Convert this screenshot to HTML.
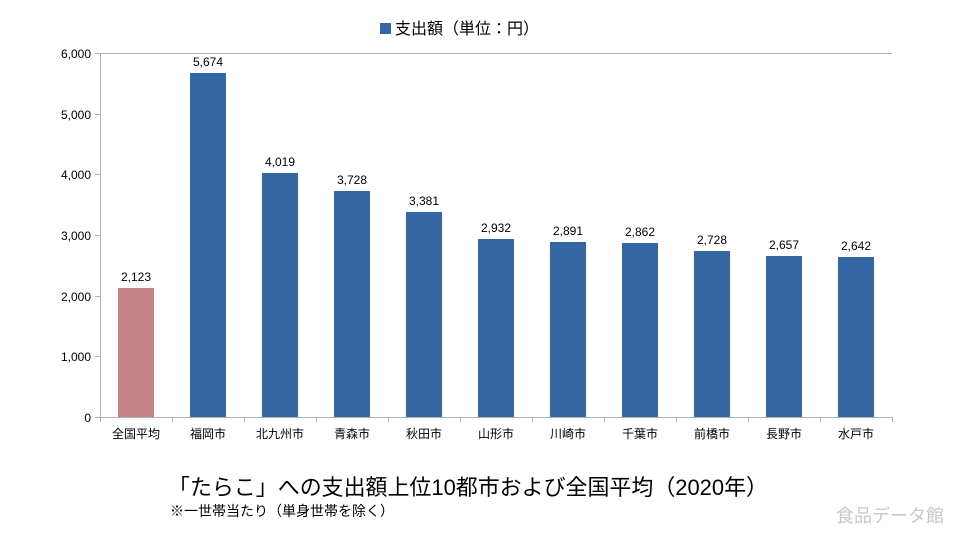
<!DOCTYPE html>
<html><head><meta charset="utf-8"><style>
body{margin:0;background:#fff;}
svg text{font-family:"Liberation Sans","Noto Sans CJK JP",sans-serif;}
</style></head><body>
<svg width="964" height="534" xmlns="http://www.w3.org/2000/svg">
<rect x="380" y="23" width="11" height="11" fill="#3465a4"/>
<text x="395" y="34" font-size="16" fill="#000">支出額（単位：円）</text>
<g stroke="#b0b0b0" stroke-width="1" fill="none">
<line x1="100.5" y1="53" x2="100.5" y2="417"/>
<line x1="100" y1="417.5" x2="892" y2="417.5"/>
<line x1="95" y1="53.5" x2="892" y2="53.5"/>
<line x1="95" y1="114.5" x2="100" y2="114.5"/>
<line x1="95" y1="174.5" x2="100" y2="174.5"/>
<line x1="95" y1="235.5" x2="100" y2="235.5"/>
<line x1="95" y1="296.5" x2="100" y2="296.5"/>
<line x1="95" y1="356.5" x2="100" y2="356.5"/>
<line x1="95" y1="417.5" x2="100" y2="417.5"/>
<line x1="172.5" y1="417" x2="172.5" y2="422"/><line x1="244.5" y1="417" x2="244.5" y2="422"/>
<line x1="316.5" y1="417" x2="316.5" y2="422"/><line x1="388.5" y1="417" x2="388.5" y2="422"/>
<line x1="460.5" y1="417" x2="460.5" y2="422"/><line x1="532.5" y1="417" x2="532.5" y2="422"/>
<line x1="604.5" y1="417" x2="604.5" y2="422"/><line x1="676.5" y1="417" x2="676.5" y2="422"/>
<line x1="748.5" y1="417" x2="748.5" y2="422"/><line x1="820.5" y1="417" x2="820.5" y2="422"/>
<line x1="892.5" y1="417" x2="892.5" y2="422"/><line x1="100.5" y1="417" x2="100.5" y2="422"/>
</g>
<g font-size="12" fill="#000" text-anchor="end">
<text x="91" y="58">6,000</text><text x="91" y="119">5,000</text><text x="91" y="179">4,000</text>
<text x="91" y="240">3,000</text><text x="91" y="301">2,000</text><text x="91" y="361">1,000</text><text x="91" y="422">0</text>
</g>
<g font-size="12" fill="#000" text-anchor="middle">
<rect x="118" y="288" width="36" height="129" fill="#c48386"/><text x="136" y="281">2,123</text><text x="136" y="438">全国平均</text>
<rect x="190" y="73" width="36" height="344" fill="#3465a4"/><text x="208" y="66">5,674</text><text x="208" y="438">福岡市</text>
<rect x="262" y="173" width="36" height="244" fill="#3465a4"/><text x="280" y="166">4,019</text><text x="280" y="438">北九州市</text>
<rect x="334" y="191" width="36" height="226" fill="#3465a4"/><text x="352" y="184">3,728</text><text x="352" y="438">青森市</text>
<rect x="406" y="212" width="36" height="205" fill="#3465a4"/><text x="424" y="205">3,381</text><text x="424" y="438">秋田市</text>
<rect x="478" y="239" width="36" height="178" fill="#3465a4"/><text x="496" y="232">2,932</text><text x="496" y="438">山形市</text>
<rect x="550" y="242" width="36" height="175" fill="#3465a4"/><text x="568" y="235">2,891</text><text x="568" y="438">川崎市</text>
<rect x="622" y="243" width="36" height="174" fill="#3465a4"/><text x="640" y="236">2,862</text><text x="640" y="438">千葉市</text>
<rect x="694" y="251" width="36" height="166" fill="#3465a4"/><text x="712" y="244">2,728</text><text x="712" y="438">前橋市</text>
<rect x="766" y="256" width="36" height="161" fill="#3465a4"/><text x="784" y="249">2,657</text><text x="784" y="438">長野市</text>
<rect x="838" y="257" width="36" height="160" fill="#3465a4"/><text x="856" y="250">2,642</text><text x="856" y="438">水戸市</text>
</g>
<text x="168" y="495" font-size="22" fill="#000" textLength="600" lengthAdjust="spacingAndGlyphs">「たらこ」への支出額上位10都市および全国平均（2020年）</text>
<text x="170" y="516" font-size="14" fill="#000">※一世帯当たり（単身世帯を除く）</text>
<text x="944" y="522" font-size="18" fill="#c8c8c8" text-anchor="end">食品データ館</text>
</svg>
</body></html>
